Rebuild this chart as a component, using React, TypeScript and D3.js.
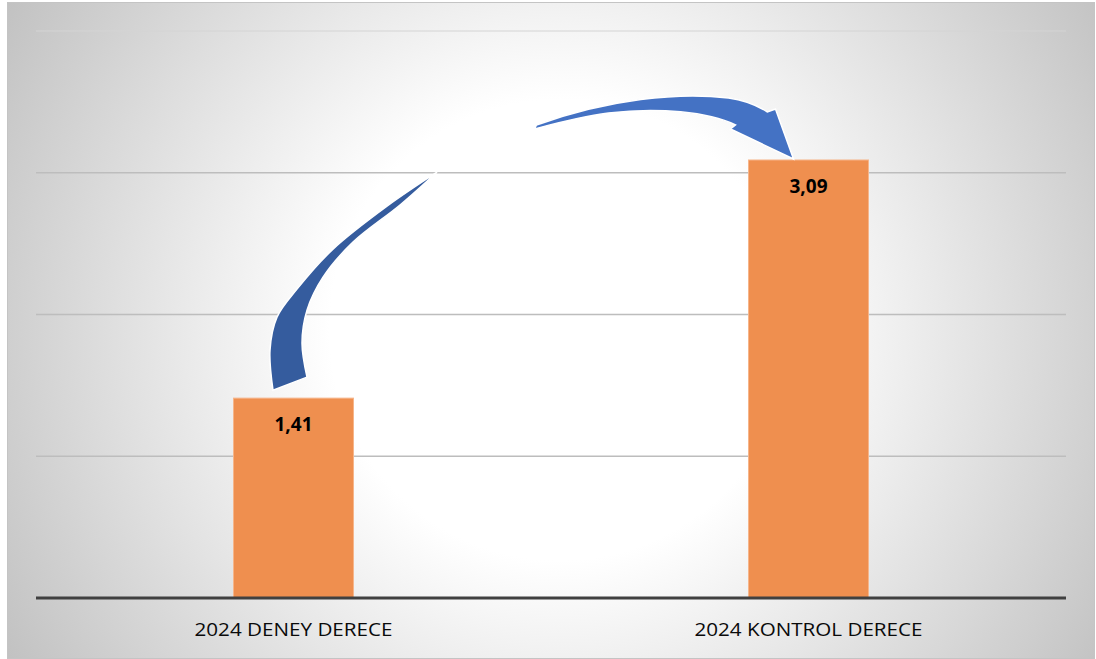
import React from "react";
import * as d3 from "d3";

const categories = ["2024 DENEY DERECE", "2024 KONTROL DERECE"];
const values = [1.41, 3.09];
const valueLabels = ["1,41", "3,09"];
const yTicks = [0, 1, 2, 3, 4];

const W = 1096;
const H = 659;
const plot = { left: 36, right: 1066, top: 31, bottom: 598 };

function shape(outer: [number, number][], inner: [number, number][], ox: number, oy: number) {
  const ln = d3.line().curve(d3.curveCatmullRom.alpha(0.5));
  const o = ln(outer.map(([a, b]) => [ox + a, oy + b] as [number, number])) || "";
  const i = ln(inner.map(([a, b]) => [ox + a, oy + b] as [number, number])) || "";
  return o + "L" + i.slice(1) + "Z";
}

export default function App() {
  const x = d3.scaleBand<string>().domain(categories).range([plot.left, plot.right]).padding(0);
  const y = d3.scaleLinear().domain([0, 4]).range([plot.bottom, plot.top]);
  const barW = x.bandwidth() * 0.233;

  const b1x = (x(categories[0]) as number) + x.bandwidth() / 2;
  const b2x = (x(categories[1]) as number) + x.bandwidth() / 2;
  const t1 = y(values[0]);
  const t2 = y(values[1]);

  // decorative curved arrow from bar 1 toward bar 2 (offsets relative to bar tops)
  const arrow1 = shape(
    [[143.5, -226], [93.5, -192], [39.5, -149], [3.5, -109], [-16.5, -81], [-23.5, -48], [-20.5, -8]],
    [[13.5, -21], [8.5, -55], [13.5, -88], [29.5, -121], [59.5, -156], [106.5, -193], [143.5, -226]],
    b1x,
    t1
  );

  const arrow2 = d3.path();
  arrow2.moveTo(b2x - 272, t2 - 35);
  arrow2.bezierCurveTo(b2x - 200, t2 - 61, b2x - 130, t2 - 68, b2x - 80, t2 - 62);
  arrow2.bezierCurveTo(b2x - 65, t2 - 60, b2x - 52, t2 - 55, b2x - 41, t2 - 48);
  arrow2.lineTo(b2x - 33, t2 - 51);
  arrow2.lineTo(b2x - 15, t2 - 1);
  arrow2.lineTo(b2x - 78, t2 - 31);
  arrow2.lineTo(b2x - 73, t2 - 35);
  arrow2.bezierCurveTo(b2x - 100, t2 - 48, b2x - 150, t2 - 53, b2x - 200, t2 - 47);
  arrow2.bezierCurveTo(b2x - 230, t2 - 43, b2x - 255, t2 - 36, b2x - 274, t2 - 31);
  arrow2.closePath();

  return (
    <div style={{ position: "fixed", left: 0, top: 0, width: W, height: H, background: "#fff" }}>
      <svg width={W} height={H} style={{ display: "block" }}>
        <defs>
          <radialGradient id="bg" gradientUnits="userSpaceOnUse" cx={560} cy={330} r={640}>
            <stop offset="0" stopColor="#ffffff" />
            <stop offset="0.36" stopColor="#ffffff" />
            <stop offset="1" stopColor="#c2c2c2" />
          </radialGradient>
        </defs>
        <rect x={7.5} y={2.5} width={1087} height={656} fill="url(#bg)" stroke="#c4c4c4" strokeWidth={1} />
        {yTicks.filter((t) => t > 0).map((t) => (
          <line
            key={t}
            x1={plot.left}
            x2={plot.right}
            y1={y(t)}
            y2={y(t)}
            stroke={t === 4 ? "#d4d4d4" : "#bdbdbd"}
            strokeWidth={t === 4 ? 1 : 1.5}
          />
        ))}
        {categories.map((c, i) => {
          const cx = (x(c) as number) + x.bandwidth() / 2;
          return (
            <g key={c}>
              <rect
                x={cx - barW / 2}
                y={y(values[i])}
                width={barW}
                height={y(0) - y(values[i])}
                fill="#ef8f4f"
                stroke="#f6b58a"
                strokeWidth={1}
              />
              <text
                x={cx}
                y={y(values[i]) + 33}
                textAnchor="middle"
                fontFamily="'Open Sans', 'Noto Sans', sans-serif"
                fontWeight="bold"
                fontSize={19}
                fill="#000"
              >
                {valueLabels[i]}
              </text>
              <text
                x={cx}
                y={636}
                textAnchor="middle"
                fontFamily="'Open Sans', 'Noto Sans', sans-serif"
                fontSize={19}
                fill="#0a0a0a"
                textLength={i === 0 ? 198 : 228}
                lengthAdjust="spacingAndGlyphs"
              >
                {c}
              </text>
            </g>
          );
        })}
        <line x1={plot.left} x2={plot.right} y1={y(0)} y2={y(0)} stroke="#404040" strokeWidth={3} />
        <path d={arrow1} fill="#355c9e" stroke="#ffffff" strokeWidth={1.5} />
        <path d={arrow2.toString()} fill="#4472c4" stroke="#ffffff" strokeWidth={1.5} />
      </svg>
    </div>
  );
}
